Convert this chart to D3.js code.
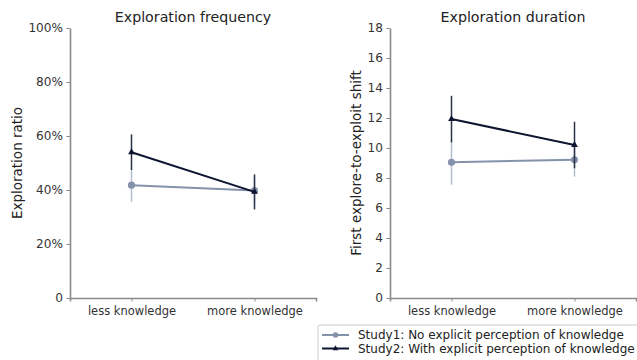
<!DOCTYPE html>
<html>
<head>
<meta charset="utf-8">
<script src="https://cdn.jsdelivr.net/npm/d3@7"></script>
<style>
	body { margin: 0; background: #fff; }
	svg { display: block; }
</style>
</head>
<body>
<svg id="chart" width="637" height="360"></svg>
<script>
	'use strict';

	var categories = ['less knowledge', 'more knowledge'];
	var seriesNames = ['Study1: No explicit perception of knowledge', 'Study2: With explicit perception of knowledge'];

	// exploration ratio (0..1), mean and half-width of error bar
	var freqStudy1 = [0.418, 0.398];
	var freqStudy1Err = [0.062, 0.05];
	var freqStudy2 = [0.54, 0.393];
	var freqStudy2Err = [0.066, 0.065];

	// first explore-to-exploit shift
	var durStudy1 = [9.05, 9.22];
	var durStudy1Err = [1.5, 1.13];
	var durStudy2 = [11.93, 10.2];
	var durStudy2Err = [1.55, 1.55];

	var freqTicks = [0, 0.2, 0.4, 0.6, 0.8, 1.0];
	var durTicks = [0, 2, 4, 6, 8, 10, 12, 14, 16, 18];

	var font = '"DejaVu Sans", sans-serif';
	var colors = ['#8592ac', '#0e1530'];
	var errColors = ['#b5bdcd', '#2a3048'];

	var svg = d3.select('#chart').attr('font-family', font);

	var styleAxis = function(sel, size) {
		sel.attr('font-family', font).attr('font-size', null);
		sel.select('.domain').attr('stroke', '#8a8a8a').attr('stroke-width', 1.6);
		sel.selectAll('.tick line').attr('stroke', '#8a8a8a');
		sel.selectAll('.tick text').attr('fill', '#333').attr('font-size', size);
	};

	var drawPanel = function(opts) {
		var x = d3.scalePoint().domain(categories).range([opts.left, opts.left + 246]).padding(0.5);
		var y = d3.scaleLinear().domain(opts.domain).range([298, 28]);
		var g = svg.append('g');

		g.append('g').attr('transform', 'translate(0,298)')
			.call(d3.axisBottom(x).tickSize(3.5).tickSizeOuter(3.5).tickPadding(4))
			.call(styleAxis, '11.5px')
			.selectAll('.tick text').attr('dy', '0.85em');
		g.append('g').attr('transform', 'translate(' + opts.left + ',0)')
			.call(d3.axisLeft(y).tickValues(opts.ticks).tickFormat(opts.format).tickSize(3.5).tickSizeOuter(0).tickPadding(3.5))
			.call(styleAxis, '12.1px');

		g.append('text').attr('x', opts.left + 123).attr('y', 22).attr('text-anchor', 'middle')
			.attr('font-size', '14.2px').attr('fill', '#222').text(opts.title);
		g.append('text').attr('transform', 'translate(' + opts.labelX + ',163) rotate(-90)')
			.attr('text-anchor', 'middle').attr('font-size', '13.5px').attr('fill', '#222').text(opts.ylabel);

		opts.series.forEach(function(s, i) {
			var pts = categories.map(function(c, k) {
				return { x: x(c), v: s.values[k], e: s.err[k] };
			});
			g.selectAll(null).data(pts).enter().append('line')
				.attr('x1', function(d) { return d.x; }).attr('x2', function(d) { return d.x; })
				.attr('y1', function(d) { return y(d.v - d.e); }).attr('y2', function(d) { return y(d.v + d.e); })
				.attr('stroke', errColors[i]).attr('stroke-width', 1.5);
			g.append('path').datum(pts)
				.attr('d', d3.line().x(function(d) { return d.x; }).y(function(d) { return y(d.v); }))
				.attr('fill', 'none').attr('stroke', colors[i]).attr('stroke-width', 2);
			g.selectAll(null).data(pts).enter().append('path')
				.attr('transform', function(d) { return 'translate(' + d.x + ',' + y(d.v) + ')'; })
				.attr('d', d3.symbol().type(i === 0 ? d3.symbolCircle : d3.symbolTriangle).size(i === 0 ? 40 : 20))
				.attr('fill', colors[i]);
		});
	};

	drawPanel({
		left: 70, domain: [0, 1], ticks: freqTicks,
		format: function(d) { return d === 0 ? '0' : Math.round(d * 100) + '%'; },
		title: 'Exploration frequency', ylabel: 'Exploration ratio', labelX: 22,
		series: [{ values: freqStudy1, err: freqStudy1Err }, { values: freqStudy2, err: freqStudy2Err }]
	});
	drawPanel({
		left: 390, domain: [0, 18], ticks: durTicks,
		format: d3.format('d'),
		title: 'Exploration duration', ylabel: 'First explore-to-exploit shift', labelX: 361,
		series: [{ values: durStudy1, err: durStudy1Err }, { values: durStudy2, err: durStudy2Err }]
	});

	/** legend */
	var legend = svg.append('g').attr('transform', 'translate(318,325)');
	legend.append('rect').attr('x', 0).attr('y', 0).attr('width', 340).attr('height', 40)
		.attr('fill', '#fff').attr('stroke', '#ccc').attr('rx', 2);
	seriesNames.forEach(function(name, i) {
		var row = legend.append('g').attr('transform', 'translate(0,' + (10 + i * 13.5) + ')');
		row.append('line').attr('x1', 4).attr('x2', 31).attr('y1', 0).attr('y2', 0)
			.attr('stroke', colors[i]).attr('stroke-width', 2);
		row.append('path').attr('transform', 'translate(17.5,0)')
			.attr('d', d3.symbol().type(i === 0 ? d3.symbolCircle : d3.symbolTriangle).size(i === 0 ? 24 : 14))
			.attr('fill', colors[i]);
		row.append('text').attr('x', 40).attr('y', 0).attr('dy', '0.35em')
			.attr('font-size', '12px').attr('fill', '#222').text(name);
	});
</script>
</body>
</html>
